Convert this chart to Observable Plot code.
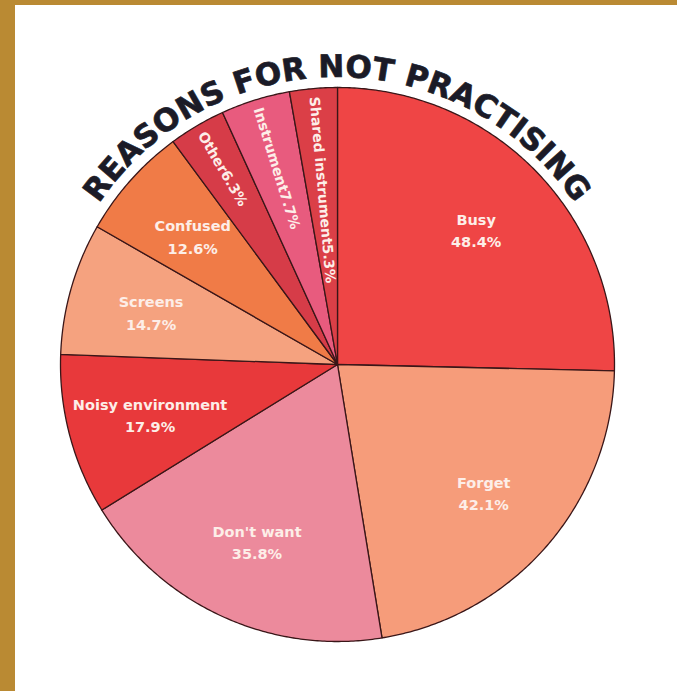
<!DOCTYPE html>
<html><head><meta charset="utf-8">
<script src="https://cdn.jsdelivr.net/npm/d3@7"></script>
<script src="https://cdn.jsdelivr.net/npm/@observablehq/plot@0.6"></script>
<style>
html,body{margin:0;padding:0;background:#ba8a33;overflow:hidden;}
#frame{position:absolute;left:15px;top:5px;width:662px;height:686px;background:#fff;}
svg{display:block;}
</style></head><body><div id="frame"></div>
<script>
const categories = ["Busy","Forget","Don't want","Noisy environment","Screens","Confused","Other","Instrument","Shared instrument"];
const values = [48.4, 42.1, 35.8, 17.9, 14.7, 12.6, 6.3, 7.7, 5.3];
const valueLabels = ["48.4%","42.1%","35.8%","17.9%","14.7%","12.6%","6.3%","7.7%","5.3%"];
const palette = ["#ef4545","#f69c7a","#ec8a9c","#e8393b","#f5a27f","#f07b47","#d63c48","#e85b7e","#db3f47"];
const title = "REASONS FOR NOT PRACTISING";

const W = 662, H = 686, CX = 322, CY = 359, R = 277;
const total = d3.sum(values);
let acc = 0;
const slices = categories.map((name, i) => {
  const a0 = acc / total * 360; acc += values[i]; const a1 = acc / total * 360;
  return {name, label: valueLabels[i], a0, a1, mid: (a0 + a1) / 2, span: a1 - a0};
});
const rad = d => d * Math.PI / 180;
const pts = [];
for (const s of slices) {
  pts.push({name: s.name, x: 0, y: 0});
  const n = Math.max(2, Math.ceil(s.span * 2));
  for (let k = 0; k <= n; k++) {
    const a = rad(s.a0 + (s.a1 - s.a0) * k / n);
    pts.push({name: s.name, x: Math.sin(a), y: -Math.cos(a)});
  }
}
const wide = slices.filter(s => s.span >= 18).map(s => ({
  x: 0.7 * Math.sin(rad(s.mid)), y: -0.7 * Math.cos(rad(s.mid)), text: s.name + "\n" + s.label
}));
const narrow = slices.filter(s => s.span < 18).map(s => ({
  x: 0.97 * Math.sin(rad(s.mid)), y: -0.97 * Math.cos(rad(s.mid)), text: s.name + s.label, rotate: (s.mid + 90) % 360
}));

const svg = Plot.plot({
  width: W, height: H, margin: 0,
  x: {domain: [-CX / R, (W - CX) / R], range: [0, W], axis: null},
  y: {domain: [-CY / R, (H - CY) / R], range: [0, H], axis: null},
  color: {domain: categories, range: palette},
  style: {background: "transparent", fontFamily: "DejaVu Sans"},
  marks: [
    Plot.line(pts, {x: "x", y: "y", z: "name", fill: "name", stroke: "#3a1618", strokeWidth: 1.3, curve: "linear-closed"}),
    Plot.text(wide, {x: "x", y: "y", text: "text", fill: "#fdeee8", fontSize: 14.5, fontWeight: "bold", lineHeight: 1.55}),
    Plot.text(narrow, {x: "x", y: "y", text: "text", rotate: "rotate", textAnchor: "start", fill: "#fdeee8", fontSize: 14, fontWeight: "bold"})
  ]
});
document.getElementById("frame").appendChild(svg);

// curved title along an arc concentric with the pie
const sx = svg.scale("x"), sy = svg.scale("y");
const cx = sx.apply(0), cy = sy.apply(0);
const Rt = 287;
const p0 = [cx + Rt * Math.sin(rad(-75)), cy - Rt * Math.cos(rad(-75))];
const p1 = [cx + Rt * Math.sin(rad(75)), cy - Rt * Math.cos(rad(75))];
const s = d3.select(svg);
s.append("defs").append("path").attr("id", "titleArc")
  .attr("d", `M${p0[0]},${p0[1]} A${Rt},${Rt} 0 0 1 ${p1[0]},${p1[1]}`);
const t = s.append("text")
  .attr("font-family", "DejaVu Sans").attr("font-weight", "bold").attr("font-size", 31)
  .attr("fill", "#1b1b27").attr("stroke", "#1b1b27").attr("stroke-width", 0.7);
t.append("textPath").attr("href", "#titleArc").attr("startOffset", "50%")
  .attr("text-anchor", "middle").text(title);
const target = rad(112) * Rt;
const len = t.node().getComputedTextLength();
t.attr("letter-spacing", ((target - len) / title.length).toFixed(2));
</script></body></html>
